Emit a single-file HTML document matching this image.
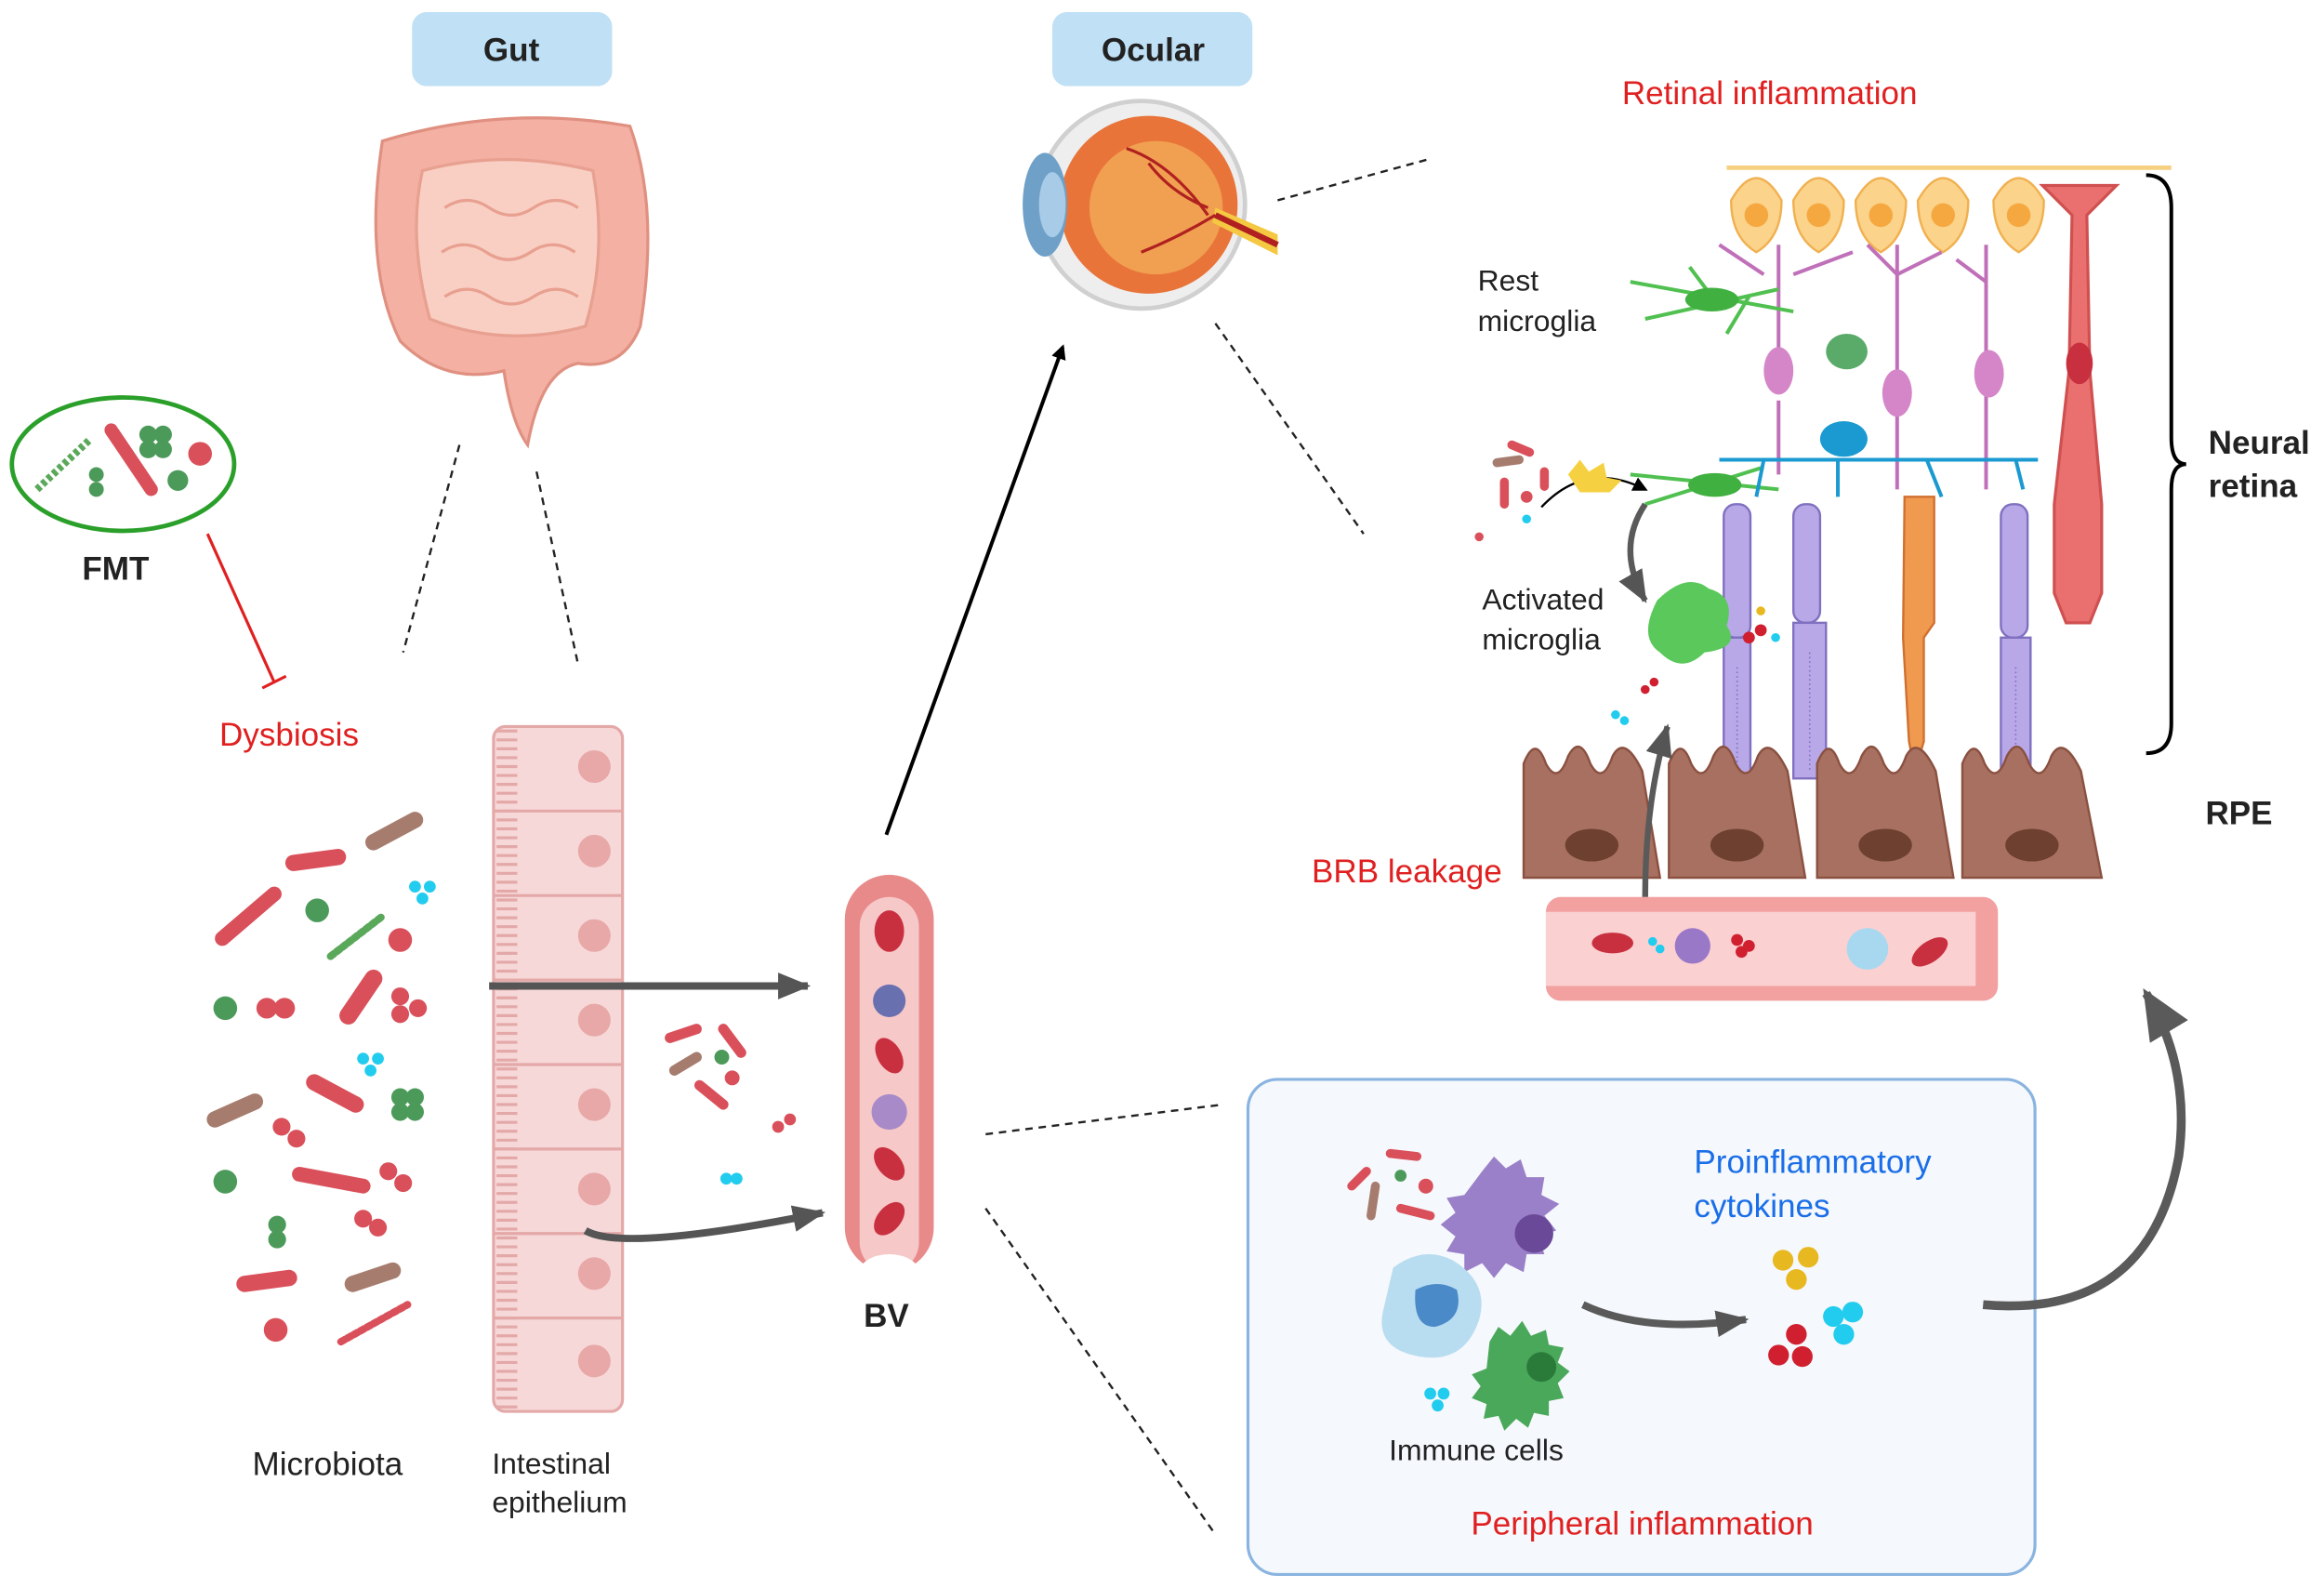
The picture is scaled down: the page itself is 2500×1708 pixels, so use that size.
<!DOCTYPE html>
<html><head><meta charset="utf-8"><style>
html,body{margin:0;padding:0;background:#fff;}
svg{display:block;}
text{font-family:"Liberation Sans",sans-serif;}
</style></head><body>
<svg width="2500" height="1708" viewBox="0 0 1568 1071" xmlns="http://www.w3.org/2000/svg">
<defs>
<marker id="ab" markerWidth="10" markerHeight="10" refX="8" refY="5" orient="auto" markerUnits="userSpaceOnUse"><path d="M0,0 L10,5 L0,10 z" fill="#000"/></marker>
<marker id="ag" markerWidth="22" markerHeight="18" refX="20" refY="9" orient="auto" markerUnits="userSpaceOnUse"><path d="M0,0 L22,9 L0,18 z" fill="#555"/></marker>
<marker id="ag2" markerWidth="34" markerHeight="30" refX="30" refY="15" orient="auto" markerUnits="userSpaceOnUse"><path d="M0,0 L34,15 L0,30 z" fill="#5a5a5a"/></marker>
</defs>
<!-- label boxes -->
<rect x="278" y="8" width="135" height="50" rx="10" fill="#bfe0f5"/>
<text x="345" y="41" font-size="22" font-weight="bold" text-anchor="middle" fill="#222">Gut</text>
<rect x="710" y="8" width="135" height="50" rx="10" fill="#bfe0f5"/>
<text x="778" y="41" font-size="22" font-weight="bold" text-anchor="middle" fill="#222">Ocular</text>
<!-- intestine -->
<path d="M258,95 Q340,70 425,85 Q445,140 432,220 Q420,250 390,245 Q365,250 356,300 Q345,285 340,250 Q300,260 270,230 Q245,180 258,95z" fill="#f3b0a3" stroke="#e09080" stroke-width="2"/>
<path d="M285,115 Q340,100 400,115 Q410,170 395,220 Q340,235 290,215 Q275,160 285,115z" fill="#f9cfc4" stroke="#e8a090" stroke-width="2"/>
<path d="M300,140 q15,-10 30,0 q15,10 30,0 q15,-10 30,0 M298,170 q15,-10 30,0 q15,10 30,0 q15,-10 30,0 M300,200 q15,-10 30,0 q15,10 30,0 q15,-10 30,0" fill="none" stroke="#e8a090" stroke-width="2"/>
<!-- FMT -->
<ellipse cx="83" cy="313" rx="75" ry="45" fill="#fff" stroke="#2aa02a" stroke-width="3"/>
<line x1="25" y1="330" x2="60" y2="297" stroke="#5aa85a" stroke-width="5" stroke-dasharray="3 2"/>
<line x1="75" y1="290" x2="102" y2="330" stroke="#d9505a" stroke-width="9" stroke-linecap="round"/>
<circle cx="100" cy="293" r="6" fill="#4c9a5a"/><circle cx="110" cy="293" r="6" fill="#4c9a5a"/><circle cx="100" cy="303" r="6" fill="#4c9a5a"/><circle cx="110" cy="303" r="6" fill="#4c9a5a"/>
<circle cx="135" cy="306" r="8" fill="#d9505a"/><circle cx="120" cy="324" r="7" fill="#4c9a5a"/><circle cx="65" cy="320" r="5" fill="#4c9a5a"/><circle cx="65" cy="330" r="5" fill="#4c9a5a"/>
<text x="78" y="391" font-size="22" font-weight="bold" text-anchor="middle" fill="#222">FMT</text>
<line x1="140" y1="360" x2="185" y2="460" stroke="#e02020" stroke-width="2"/>
<line x1="177" y1="464" x2="193" y2="456" stroke="#e02020" stroke-width="2"/>
<text x="148" y="503" font-size="22" fill="#e02020">Dysbiosis</text>
<!-- dashed -->
<g stroke="#222" stroke-width="1.5" stroke-dasharray="5 4" fill="none">
<line x1="310" y1="300" x2="272" y2="440"/><line x1="362" y1="318" x2="390" y2="448"/>
<line x1="862" y1="135" x2="965" y2="107"/><line x1="820" y1="218" x2="920" y2="360"/>
<line x1="665" y1="765" x2="825" y2="745"/><line x1="665" y1="815" x2="820" y2="1035"/>
</g>
<!-- bacteria -->
<g stroke-linecap="round">
<line x1="150" y1="633" x2="185" y2="603" stroke="#d9505a" stroke-width="10"/>
<line x1="198" y1="582" x2="228" y2="578" stroke="#d9505a" stroke-width="11"/>
<line x1="252" y1="568" x2="280" y2="553" stroke="#a67c6e" stroke-width="11"/>
<line x1="223" y1="645" x2="258" y2="618" stroke="#5aa85a" stroke-width="5" stroke-dasharray="3 2"/>
<line x1="235" y1="685" x2="252" y2="660" stroke="#d9505a" stroke-width="12"/>
<line x1="212" y1="730" x2="240" y2="745" stroke="#d9505a" stroke-width="11"/>
<line x1="145" y1="755" x2="172" y2="743" stroke="#a67c6e" stroke-width="11"/>
<line x1="202" y1="792" x2="245" y2="800" stroke="#d9505a" stroke-width="10"/>
<line x1="165" y1="866" x2="195" y2="862" stroke="#d9505a" stroke-width="11"/>
<line x1="238" y1="866" x2="265" y2="857" stroke="#a67c6e" stroke-width="11"/>
<line x1="230" y1="905" x2="275" y2="880" stroke="#d9505a" stroke-width="5" stroke-dasharray="3 2"/>
</g>
<g fill="#4c9a5a"><circle cx="214" cy="614" r="8"/><circle cx="152" cy="680" r="8"/><circle cx="152" cy="797" r="8"/><circle cx="270" cy="740" r="6"/><circle cx="280" cy="740" r="6"/><circle cx="270" cy="750" r="6"/><circle cx="280" cy="750" r="6"/><circle cx="187" cy="826" r="6"/><circle cx="187" cy="836" r="6"/></g>
<g fill="#d9505a"><circle cx="270" cy="634" r="8"/><circle cx="180" cy="680" r="7"/><circle cx="192" cy="680" r="7"/><circle cx="270" cy="672" r="6"/><circle cx="282" cy="680" r="6"/><circle cx="270" cy="684" r="6"/><circle cx="190" cy="760" r="6"/><circle cx="200" cy="768" r="6"/><circle cx="262" cy="790" r="6"/><circle cx="272" cy="798" r="6"/><circle cx="245" cy="822" r="6"/><circle cx="255" cy="828" r="6"/><circle cx="186" cy="897" r="8"/></g>
<g fill="#22ccee"><circle cx="280" cy="598" r="4"/><circle cx="290" cy="598" r="4"/><circle cx="285" cy="606" r="4"/><circle cx="245" cy="714" r="4"/><circle cx="255" cy="714" r="4"/><circle cx="250" cy="722" r="4"/></g>
<text x="221" y="995" font-size="22" text-anchor="middle" fill="#222">Microbiota</text>
<!-- epithelium -->
<g>
<rect x="333" y="490" width="87" height="462" rx="8" fill="#f7d8d8" stroke="#e4a8a8" stroke-width="2"/>
<g stroke="#e4a8a8" stroke-width="2">
<line x1="333" y1="547" x2="420" y2="547"/><line x1="333" y1="604" x2="420" y2="604"/><line x1="333" y1="661" x2="420" y2="661"/><line x1="333" y1="718" x2="420" y2="718"/><line x1="333" y1="775" x2="420" y2="775"/><line x1="333" y1="832" x2="420" y2="832"/><line x1="333" y1="889" x2="420" y2="889"/>
</g>
<line x1="342" y1="492" x2="342" y2="950" stroke="#e4a8a8" stroke-width="14" stroke-dasharray="2 4"/>
<g fill="#e8a8a8"><circle cx="401" cy="517" r="11"/><circle cx="401" cy="574" r="11"/><circle cx="401" cy="631" r="11"/><circle cx="401" cy="688" r="11"/><circle cx="401" cy="745" r="11"/><circle cx="401" cy="802" r="11"/><circle cx="401" cy="859" r="11"/><circle cx="401" cy="918" r="11"/></g>
</g>
<text x="332" y="994" font-size="20" fill="#222">Intestinal</text>
<text x="332" y="1020" font-size="20" fill="#222">epithelium</text>
<!-- leaked bacteria -->
<g stroke-linecap="round"><line x1="452" y1="700" x2="470" y2="694" stroke="#d9505a" stroke-width="7"/><line x1="488" y1="694" x2="500" y2="710" stroke="#d9505a" stroke-width="7"/><line x1="455" y1="722" x2="470" y2="713" stroke="#a67c6e" stroke-width="7"/><line x1="472" y1="732" x2="488" y2="745" stroke="#d9505a" stroke-width="7"/></g>
<circle cx="487" cy="713" r="5" fill="#4c9a5a"/><circle cx="494" cy="727" r="5" fill="#d9505a"/><circle cx="525" cy="760" r="4" fill="#d9505a"/><circle cx="533" cy="755" r="4" fill="#d9505a"/><circle cx="490" cy="795" r="4" fill="#22ccee"/><circle cx="497" cy="795" r="4" fill="#22ccee"/>
<!-- gray arrows -->
<line x1="330" y1="665" x2="545" y2="665" stroke="#555" stroke-width="5" marker-end="url(#ag)"/>
<path d="M395,830 Q420,845 555,818" fill="none" stroke="#555" stroke-width="5" marker-end="url(#ag)"/>
<!-- BV -->
<rect x="570" y="590" width="60" height="268" rx="30" fill="#e88a8a"/>
<rect x="580" y="605" width="40" height="253" rx="20" fill="#f7c8c8"/>
<ellipse cx="600" cy="628" rx="10" ry="14" fill="#c83040"/>
<circle cx="600" cy="675" r="11" fill="#6870b0"/>
<ellipse cx="600" cy="712" rx="8" ry="13" fill="#c83040" transform="rotate(-30 600 712)"/>
<circle cx="600" cy="750" r="12" fill="#a88ac8"/>
<ellipse cx="600" cy="785" rx="8" ry="13" fill="#c83040" transform="rotate(-40 600 785)"/>
<ellipse cx="600" cy="822" rx="8" ry="13" fill="#c83040" transform="rotate(40 600 822)"/>
<ellipse cx="600" cy="858" rx="20" ry="12" fill="#fff"/>
<text x="598" y="895" font-size="22" font-weight="bold" text-anchor="middle" fill="#222">BV</text>
<line x1="598" y1="563" x2="717" y2="234" stroke="#000" stroke-width="2.5" marker-end="url(#ab)"/>
<!-- eye -->
<circle cx="770" cy="138" r="70" fill="#eeeeee" stroke="#d0d0d0" stroke-width="3"/>
<circle cx="775" cy="138" r="60" fill="#e8743a"/>
<circle cx="780" cy="140" r="45" fill="#f0a050"/>
<path d="M820,140 L862,158 L862,172 L818,150z" fill="#f5c842"/>
<path d="M820,145 L862,165" stroke="#b02020" stroke-width="4"/>
<ellipse cx="705" cy="138" rx="15" ry="35" fill="#6ea0c8"/>
<ellipse cx="710" cy="138" rx="9" ry="22" fill="#a8cbe8"/>
<path d="M760,100 q30,10 55,45 M770,170 q25,-10 50,-25 M775,110 q15,20 40,30" stroke="#b02020" stroke-width="2" fill="none"/>
<!-- retina -->
<text x="1194" y="70" font-size="22" text-anchor="middle" fill="#e02020">Retinal inflammation</text>
<line x1="1165" y1="113" x2="1465" y2="113" stroke="#f5d080" stroke-width="3"/>
<g fill="#fbd38a" stroke="#f0b050" stroke-width="1.5">
<path d="M1168,135 q17,-30 34,0 q0,25 -17,35 q-17,-10 -17,-35z"/><path d="M1210,135 q17,-30 34,0 q0,25 -17,35 q-17,-10 -17,-35z"/><path d="M1252,135 q17,-30 34,0 q0,25 -17,35 q-17,-10 -17,-35z"/><path d="M1294,135 q17,-30 34,0 q0,25 -17,35 q-17,-10 -17,-35z"/><path d="M1345,135 q17,-30 34,0 q0,25 -17,35 q-17,-10 -17,-35z"/>
</g>
<g fill="#f5a840"><circle cx="1185" cy="145" r="8"/><circle cx="1227" cy="145" r="8"/><circle cx="1269" cy="145" r="8"/><circle cx="1311" cy="145" r="8"/><circle cx="1362" cy="145" r="8"/></g>
<!-- red muller cell -->
<path d="M1378,125 L1428,125 L1408,145 L1410,250 L1418,340 L1418,400 L1410,420 L1394,420 L1386,400 L1386,340 L1396,250 L1398,145z" fill="#ea7070" stroke="#d05050" stroke-width="2"/>
<ellipse cx="1403" cy="245" rx="9" ry="14" fill="#c83040"/>
<!-- purple dendrites / bipolar -->
<g stroke="#c070b8" stroke-width="2.5" fill="none">
<path d="M1200,165 L1200,240 M1280,165 L1280,255 M1340,165 L1340,240 M1190,185 l-30,-20 M1210,185 l40,-15 M1280,185 l-20,-20 M1280,185 l30,-15 M1340,190 l-20,-15"/>
<path d="M1200,270 L1200,320 M1280,270 L1280,330 M1340,265 L1340,330"/>
</g>
<g fill="#d486c8"><ellipse cx="1200" cy="250" rx="10" ry="16"/><ellipse cx="1280" cy="265" rx="10" ry="16"/><ellipse cx="1342" cy="252" rx="10" ry="16"/></g>
<!-- rest microglia -->
<g stroke="#50c050" stroke-width="2.5" fill="none"><path d="M1100,190 L1210,210 M1110,215 L1200,195 M1140,180 l15,20 M1165,225 l15,-25 M1100,320 L1200,330 M1110,340 L1190,315"/></g>
<ellipse cx="1155" cy="202" rx="18" ry="8" fill="#40b040"/>
<ellipse cx="1157" cy="327" rx="18" ry="8" fill="#40b040"/>
<ellipse cx="1246" cy="237" rx="14" ry="12" fill="#5aaa6a"/>
<!-- blue horizontal cell -->
<path d="M1160,310 L1375,310 M1190,310 l-5,25 M1240,310 l0,25 M1300,310 l10,25 M1360,310 l5,20" stroke="#1a9ad0" stroke-width="2.5" fill="none"/>
<ellipse cx="1244" cy="296" rx="16" ry="12" fill="#1a9ad0"/>
<!-- photoreceptors -->
<g fill="#b8a8e8" stroke="#8070c0" stroke-width="1.5">
<rect x="1163" y="340" width="18" height="90" rx="8"/><rect x="1163" y="430" width="18" height="100"/>
<rect x="1210" y="340" width="18" height="80" rx="8"/><rect x="1210" y="420" width="22" height="105"/>
<rect x="1350" y="340" width="18" height="90" rx="8"/><rect x="1350" y="430" width="20" height="110"/>
</g>
<path d="M1285,335 L1305,335 L1305,420 L1298,430 L1298,500 L1292,520 L1288,500 L1284,430z" fill="#f09a50" stroke="#d07030" stroke-width="1.5"/>
<g stroke="#8070c0" stroke-width="1" stroke-dasharray="1 2"><line x1="1172" y1="450" x2="1172" y2="525"/><line x1="1221" y1="440" x2="1221" y2="520"/><line x1="1360" y1="450" x2="1360" y2="535"/></g>
<!-- brace -->
<path d="M1448,118 Q1465,118 1465,140 L1465,295 Q1465,313 1475,313 Q1465,313 1465,330 L1465,488 Q1465,508 1448,508" fill="none" stroke="#000" stroke-width="2.5"/>
<text x="1490" y="306" font-size="22" font-weight="bold" fill="#222">Neural</text>
<text x="1490" y="335" font-size="22" font-weight="bold" fill="#222">retina</text>
<text x="1488" y="556" font-size="22" font-weight="bold" fill="#222">RPE</text>
<!-- RPE -->
<g fill="#a87060" stroke="#8a5040" stroke-width="1.5">
<path d="M1028,592 L1028,515 q8,-20 15,0 q8,15 15,-5 q8,-15 15,5 q8,15 15,-5 q8,-15 20,10 L1120,592z"/>
<path d="M1126,592 L1126,515 q8,-20 15,0 q8,15 15,-5 q8,-15 15,5 q8,15 15,-5 q8,-15 20,10 L1218,592z"/>
<path d="M1226,592 L1226,515 q8,-20 15,0 q8,15 15,-5 q8,-15 15,5 q8,15 15,-5 q8,-15 20,10 L1318,592z"/>
<path d="M1324,592 L1324,515 q8,-20 15,0 q8,15 15,-5 q8,-15 15,5 q8,15 15,-5 q8,-15 20,10 L1418,592z"/>
</g>
<g fill="#6e4030"><ellipse cx="1074" cy="570" rx="18" ry="11"/><ellipse cx="1172" cy="570" rx="18" ry="11"/><ellipse cx="1272" cy="570" rx="18" ry="11"/><ellipse cx="1371" cy="570" rx="18" ry="11"/></g>
<!-- vessel -->
<rect x="1043" y="605" width="305" height="70" rx="10" fill="#f2a0a0"/>
<rect x="1043" y="615" width="290" height="50" fill="#fbd0d0"/>
<ellipse cx="1088" cy="636" rx="14" ry="7" fill="#c83040"/>
<circle cx="1142" cy="638" r="12" fill="#9a78c8"/>
<circle cx="1260" cy="640" r="14" fill="#a8d8f0"/>
<ellipse cx="1302" cy="642" rx="14" ry="7" fill="#c83040" transform="rotate(-35 1302 642)"/>
<g fill="#d02030"><circle cx="1172" cy="634" r="4"/><circle cx="1180" cy="638" r="4"/><circle cx="1175" cy="642" r="4"/></g>
<circle cx="1115" cy="635" r="3" fill="#22ccee"/><circle cx="1120" cy="640" r="3" fill="#22ccee"/>
<text x="885" y="595" font-size="22" fill="#e02020">BRB leakage</text>
<path d="M1110,605 Q1110,540 1125,490" fill="none" stroke="#5a5a5a" stroke-width="4" marker-end="url(#ag)"/>
<!-- activated microglia -->
<path d="M1118,405 q20,-20 35,-8 q18,5 12,25 q10,15 -15,18 q-15,15 -30,0 q-15,-10 -2,-35z" fill="#5ac85a"/>
<path d="M1040,342 Q1070,310 1110,330" fill="none" stroke="#000" stroke-width="1.5" marker-end="url(#ab)"/>
<path d="M1110,340 Q1090,370 1110,405" fill="none" stroke="#5a5a5a" stroke-width="4" marker-end="url(#ag)"/>
<path d="M1058,320 l8,-10 l6,8 l10,-6 l2,10 l10,2 l-8,8 l-20,0z" fill="#f5d040"/>
<g stroke-linecap="round"><line x1="1020" y1="300" x2="1032" y2="305" stroke="#d9505a" stroke-width="6"/><line x1="1010" y1="312" x2="1025" y2="310" stroke="#a67c6e" stroke-width="6"/><line x1="1042" y1="318" x2="1042" y2="328" stroke="#d9505a" stroke-width="6"/><line x1="1015" y1="325" x2="1015" y2="340" stroke="#d9505a" stroke-width="6"/></g>
<circle cx="1030" cy="335" r="4" fill="#d9505a"/><circle cx="998" cy="362" r="3" fill="#d9505a"/><circle cx="1030" cy="350" r="3" fill="#22ccee"/>
<g fill="#d02030"><circle cx="1180" cy="430" r="4"/><circle cx="1188" cy="425" r="4"/><circle cx="1110" cy="465" r="3"/><circle cx="1116" cy="460" r="3"/></g>
<circle cx="1188" cy="412" r="3" fill="#e8b820"/><circle cx="1198" cy="430" r="3" fill="#22ccee"/><circle cx="1090" cy="482" r="3" fill="#22ccee"/><circle cx="1096" cy="486" r="3" fill="#22ccee"/>
<text x="997" y="196" font-size="20" fill="#222">Rest</text>
<text x="997" y="223" font-size="20" fill="#222">microglia</text>
<text x="1000" y="411" font-size="20" fill="#222">Activated</text>
<text x="1000" y="438" font-size="20" fill="#222">microglia</text>
<!-- peripheral box -->
<rect x="842" y="728" width="531" height="334" rx="20" fill="#f5f8fc" stroke="#8ab4e0" stroke-width="2"/>
<text x="1143" y="791" font-size="22" fill="#1a6ee8">Proinflammatory</text>
<text x="1143" y="821" font-size="22" fill="#1a6ee8">cytokines</text>
<path d="M1000,790 l8,-10 l8,8 l10,-6 l4,12 l12,0 l-2,12 l12,6 l-10,8 l8,10 l-12,4 l4,12 l-12,0 l-2,12 l-12,-6 l-8,10 l-8,-10 l-12,6 l0,-12 l-12,-2 l6,-10 l-10,-8 l10,-8 l-6,-10 l12,-2z" fill="#9a80c8"/>
<circle cx="1035" cy="832" r="13" fill="#6a4a98"/>
<path d="M940,855 q20,-15 40,-5 q25,15 18,40 q-10,30 -40,25 q-30,-5 -25,-30z" fill="#b8dcf0"/>
<path d="M955,870 q15,-8 28,0 q5,20 -15,25 q-15,0 -13,-25z" fill="#4a8ac8"/>
<path d="M1005,905 l6,-10 l8,6 l8,-10 l6,10 l10,-4 l2,10 l10,2 l-4,10 l8,6 l-8,8 l4,10 l-10,2 l0,10 l-10,-2 l-4,10 l-8,-6 l-8,8 l-4,-10 l-10,2 l2,-10 l-10,-4 l6,-8 l-6,-8 l10,-4z" fill="#4aa85a"/>
<circle cx="1040" cy="922" r="10" fill="#2a7a3a"/>
<g stroke-linecap="round"><line x1="912" y1="800" x2="922" y2="790" stroke="#d9505a" stroke-width="6"/><line x1="938" y1="778" x2="956" y2="780" stroke="#d9505a" stroke-width="6"/><line x1="928" y1="800" x2="925" y2="820" stroke="#a67c6e" stroke-width="6"/><line x1="945" y1="815" x2="965" y2="820" stroke="#d9505a" stroke-width="6"/></g>
<circle cx="945" cy="793" r="4" fill="#4c9a5a"/><circle cx="962" cy="800" r="5" fill="#d9505a"/>
<circle cx="965" cy="940" r="4" fill="#22ccee"/><circle cx="974" cy="940" r="4" fill="#22ccee"/><circle cx="970" cy="948" r="4" fill="#22ccee"/>
<path d="M1068,880 Q1110,900 1178,890" fill="none" stroke="#5a5a5a" stroke-width="5" marker-end="url(#ag)"/>
<g fill="#e8b820"><circle cx="1203" cy="850" r="7"/><circle cx="1220" cy="848" r="7"/><circle cx="1212" cy="863" r="7"/></g>
<g fill="#d02030"><circle cx="1212" cy="900" r="7"/><circle cx="1200" cy="914" r="7"/><circle cx="1216" cy="915" r="7"/></g>
<g fill="#22ccee"><circle cx="1237" cy="888" r="7"/><circle cx="1250" cy="885" r="7"/><circle cx="1244" cy="900" r="7"/></g>
<text x="996" y="985" font-size="20" text-anchor="middle" fill="#222">Immune cells</text>
<text x="1108" y="1035" font-size="22" text-anchor="middle" fill="#e02020">Peripheral inflammation</text>
<path d="M1338,880 Q1450,890 1470,780 Q1478,720 1448,670" fill="none" stroke="#5a5a5a" stroke-width="6" marker-end="url(#ag2)"/>
</svg>
</body></html>
